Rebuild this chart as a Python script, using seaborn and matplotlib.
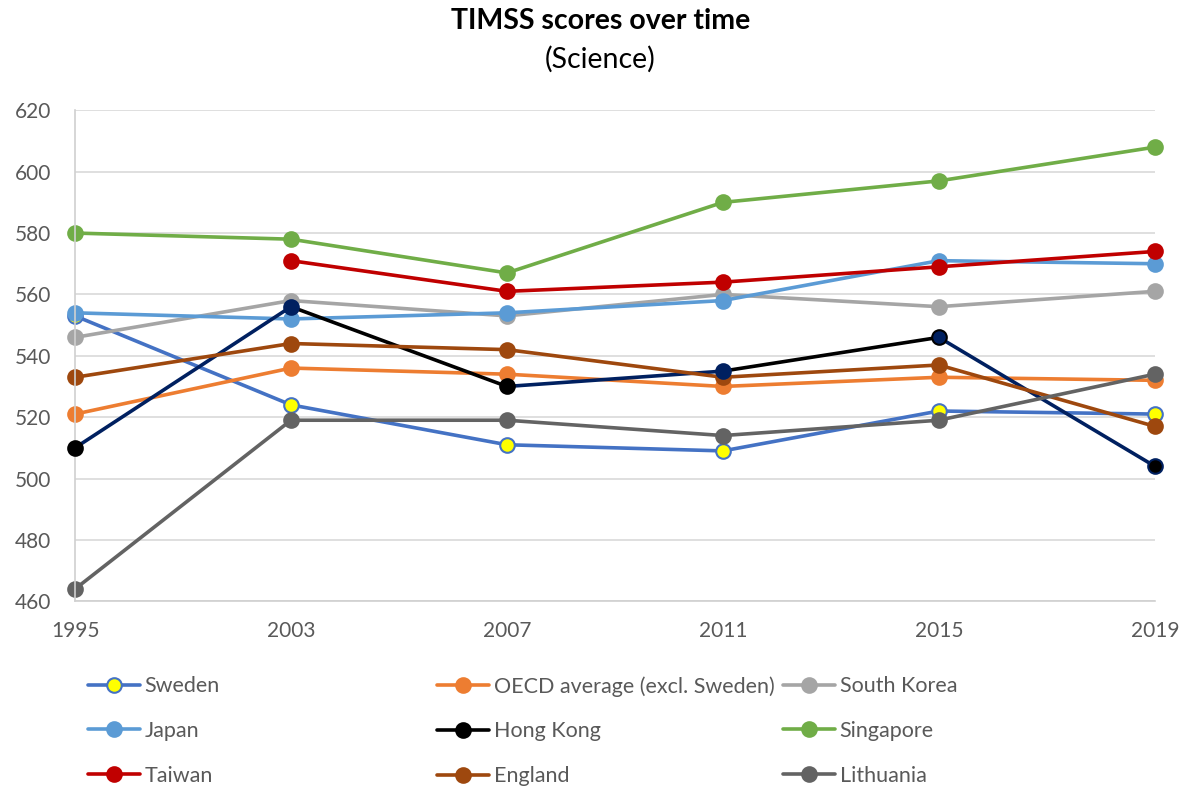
import numpy as np
import pandas as pd
import matplotlib
matplotlib.use("Agg")
import matplotlib.pyplot as plt
from matplotlib.lines import Line2D
import seaborn as sns

years = ["1995", "2003", "2007", "2011", "2015", "2019"]
sweden = [553, 524, 511, 509, 522, 521]
oecd = [521, 536, 534, 530, 533, 532]
south_korea = [546, 558, 553, 560, 556, 561]
japan = [554, 552, 554, 558, 571, 570]
hong_kong = [510, 556, 530, 535, 546, 504]
singapore = [580, 578, 567, 590, 597, 608]
taiwan = [np.nan, 571, 561, 564, 569, 574]
england = [533, 544, 542, 533, 537, 517]
lithuania = [464, 519, 519, 514, 519, 534]

series_names = ["Sweden", "OECD average (excl. Sweden)", "South Korea", "Japan",
                "Hong Kong", "Singapore", "Taiwan", "England", "Lithuania"]
series_values = [sweden, oecd, south_korea, japan, hong_kong, singapore,
                 taiwan, england, lithuania]

colors = {
    "Sweden": "#4472C4",
    "OECD average (excl. Sweden)": "#ED7D31",
    "South Korea": "#A5A5A5",
    "Japan": "#5B9BD5",
    "Hong Kong": "#000000",
    "Singapore": "#70AD47",
    "Taiwan": "#C00000",
    "England": "#9E480E",
    "Lithuania": "#636363",
}
NAVY = "#002060"
hk_seg_colors = [NAVY, "#000000", NAVY, "#000000", NAVY]
hk_face = ["#000000", NAVY, "#000000", NAVY, NAVY, "#000000"]
hk_edge = ["#000000", NAVY, "#000000", NAVY, "#000000", NAVY]

sns.set_theme(style="white")
plt.rcParams['font.family'] = ['Lato', 'DejaVu Sans']

fig = plt.figure(figsize=(11.82, 7.88), dpi=100)
ax = fig.add_axes([0.0635, 0.237, 0.9135, 0.623])

x_idx = np.arange(len(years))
LW = 2.6
MS = 10.5

for name, vals in zip(series_names, series_values):
    df = pd.DataFrame({"x": x_idx, "y": vals}).dropna()
    c = colors[name]
    if name == "Hong Kong":
        for i in range(len(x_idx) - 1):
            seg = df.iloc[i:i + 2]
            sns.lineplot(data=seg, x="x", y="y", ax=ax, color=hk_seg_colors[i],
                         linewidth=LW, clip_on=False, legend=False)
        for i, row in enumerate(df.itertuples()):
            ax.plot(row.x, row.y, marker="o", markersize=MS, markerfacecolor=hk_face[i],
                    markeredgecolor=hk_edge[i], markeredgewidth=1.5, linestyle="none",
                    clip_on=False, zorder=3)
    else:
        face = "#FFFF00" if name == "Sweden" else c
        sns.lineplot(data=df, x="x", y="y", ax=ax, color=c, linewidth=LW,
                     marker="o", markersize=MS, markerfacecolor=face,
                     markeredgecolor=c, markeredgewidth=1.5, clip_on=False, legend=False)

ax.set_xlim(0, len(years) - 1)
ax.set_ylim(460, 620)
ax.set_yticks(np.arange(460, 621, 20))
ax.set_xticks(x_idx)
ax.set_xticklabels(years)
ax.set_xlabel("")
ax.set_ylabel("")
ax.yaxis.grid(True, color="#D9D9D9", linewidth=1.2)
ax.xaxis.grid(False)
ax.set_axisbelow(True)
for s in ["top", "right"]:
    ax.spines[s].set_visible(False)
for s in ["left", "bottom"]:
    ax.spines[s].set_color("#D0D0D0")
    ax.spines[s].set_linewidth(1.2)
ax.tick_params(axis="both", length=0, labelsize=15, colors="#595959")
ax.tick_params(axis="y", pad=17)
ax.tick_params(axis="x", pad=14)

fig.text(0.508, 0.973, "TIMSS scores over time", ha="center", va="center",
         fontsize=20.5, fontweight="bold", color="#000000")
fig.text(0.508, 0.925, "(Science)", ha="center", va="center",
         fontsize=20.5, color="#000000")

def handle(name):
    c = colors[name]
    face = "#FFFF00" if name == "Sweden" else c
    return Line2D([0], [0], color=c, linewidth=LW, marker="o", markersize=MS,
                  markerfacecolor=face, markeredgecolor=c, markeredgewidth=1.5)

columns = [["Sweden", "Japan", "Taiwan"],
           ["OECD average (excl. Sweden)", "Hong Kong", "England"],
           ["South Korea", "Singapore", "Lithuania"]]
col_x = [0.0745, 0.3697, 0.6624]
for cx, names in zip(col_x, columns):
    leg = fig.legend([handle(n) for n in names], names, loc="upper left",
                     bbox_to_anchor=(cx, 0.142), frameon=False, fontsize=15.5,
                     handlelength=2.4, handletextpad=0.23, labelspacing=1.15,
                     borderaxespad=0, borderpad=0, labelcolor="#595959")

fig.savefig("out.png", dpi=100)
